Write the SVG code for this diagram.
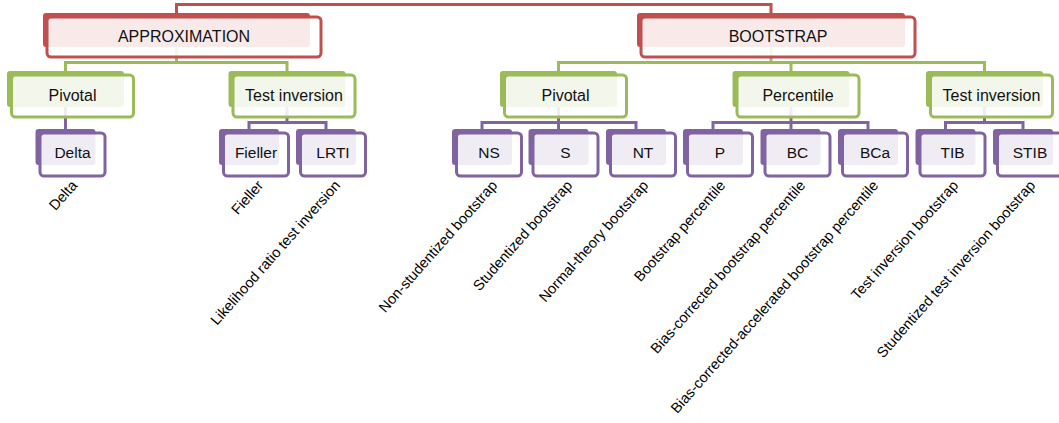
<svg xmlns="http://www.w3.org/2000/svg" width="1059" height="423" viewBox="0 0 1059 423">
<style>
.bg{fill:#ffffff}
.c-r{fill:none;stroke:#c0504d;stroke-width:3}
.c-g{fill:none;stroke:#9bbb59;stroke-width:3}
.c-p{fill:none;stroke:#8064a2;stroke-width:3}
.bk-r{fill:#c0504d}
.bk-g{fill:#9bbb59}
.bk-p{fill:#8064a2}
.fr-r{fill:#ffffff;fill-opacity:.88;stroke:#c0504d;stroke-width:3}
.fr-g{fill:#ffffff;fill-opacity:.88;stroke:#9bbb59;stroke-width:3}
.fr-p{fill:#ffffff;fill-opacity:.88;stroke:#8064a2;stroke-width:3}
.t{font-family:"Liberation Sans",Arial,sans-serif;font-size:16px;fill:#111;text-anchor:middle}
.t3{font-family:"Liberation Sans",Arial,sans-serif;font-size:15.5px;fill:#111;text-anchor:middle}
.lbl{font-family:"Liberation Sans",Arial,sans-serif;font-size:14.5px;fill:#000;text-anchor:end}
</style>
<rect class="bg" x="0" y="0" width="1059" height="423"/>
<g id="connectors">
<path class="c-r" d="M176.5 13 V4.5 H771 V13"/>
<path class="c-g" d="M176.5 47 V62.5 M65.5 71 V62.5 H287 V71"/>
<path class="c-g" d="M771 47 V62.5 M558.5 71 V62.5 H984.5 V71 M791 62.5 V71"/>
<path class="c-p" d="M65.5 107 V129"/>
<path class="c-p" d="M287 107 V122.5 M249 129 V122.5 H326 V129"/>
<path class="c-p" d="M558.5 107 V129 M482 129 V122.5 H636 V129"/>
<path class="c-p" d="M791 107 V129 M713 129 V122.5 H868 V129"/>
<path class="c-p" d="M984.5 107 V122.5 M945.5 129 V122.5 H1023 V129"/>
</g>
<g id="n-approximation">
<rect class="bk-r" x="43" y="13" width="267" height="34" rx="3"/>
<rect class="fr-r" x="47" y="17" width="274" height="40" rx="4"/>
<text class="t" x="184" y="42">APPROXIMATION</text>
</g>
<g id="n-bootstrap">
<rect class="bk-r" x="637" y="13" width="268" height="34" rx="3"/>
<rect class="fr-r" x="641" y="17" width="274" height="40" rx="4"/>
<text class="t" x="778" y="42">BOOTSTRAP</text>
</g>
<g id="n-pivotal-a">
<rect class="bk-g" x="7" y="71" width="117" height="36" rx="3"/>
<rect class="fr-g" x="11.5" y="75" width="122" height="42" rx="4"/>
<text class="t" x="72.5" y="101">Pivotal</text>
</g>
<g id="n-testinv-a">
<rect class="bk-g" x="228.5" y="71" width="117" height="36" rx="3"/>
<rect class="fr-g" x="233" y="75" width="122" height="42" rx="4"/>
<text class="t" x="294" y="101">Test inversion</text>
</g>
<g id="n-pivotal-b">
<rect class="bk-g" x="500" y="71" width="117" height="36" rx="3"/>
<rect class="fr-g" x="504.5" y="75" width="122" height="42" rx="4"/>
<text class="t" x="565.5" y="101">Pivotal</text>
</g>
<g id="n-percentile">
<rect class="bk-g" x="732.5" y="71" width="117" height="36" rx="3"/>
<rect class="fr-g" x="737" y="75" width="122" height="42" rx="4"/>
<text class="t" x="798" y="101">Percentile</text>
</g>
<g id="n-testinv-b">
<rect class="bk-g" x="926" y="71" width="117" height="36" rx="3"/>
<rect class="fr-g" x="930.5" y="75" width="122" height="42" rx="4"/>
<text class="t" x="991.5" y="101">Test inversion</text>
</g>
<g id="n-delta">
<rect class="bk-p" x="35.5" y="129" width="60" height="36" rx="3"/>
<rect class="fr-p" x="40" y="133" width="65" height="43" rx="4"/>
<text class="t3" x="72.5" y="158">Delta</text>
<text class="lbl" transform="translate(78 186) rotate(-48.5)">Delta</text>
</g>
<g id="n-fieller">
<rect class="bk-p" x="219" y="129" width="60" height="36" rx="3"/>
<rect class="fr-p" x="223.5" y="133" width="65" height="43" rx="4"/>
<text class="t3" x="256" y="158">Fieller</text>
<text class="lbl" transform="translate(264 186) rotate(-48.5)">Fieller</text>
</g>
<g id="n-lrti">
<rect class="bk-p" x="296" y="129" width="60" height="36" rx="3"/>
<rect class="fr-p" x="300.5" y="133" width="65" height="43" rx="4"/>
<text class="t3" x="333" y="158">LRTI</text>
<text class="lbl" transform="translate(341 186) rotate(-48.5)">Likelihood ratio test inversion</text>
</g>
<g id="n-ns">
<rect class="bk-p" x="452" y="129" width="60" height="36" rx="3"/>
<rect class="fr-p" x="456.5" y="133" width="65" height="43" rx="4"/>
<text class="t3" x="489" y="158">NS</text>
<text class="lbl" transform="translate(498 186) rotate(-48.5)">Non-studentized bootstrap</text>
</g>
<g id="n-s">
<rect class="bk-p" x="528.5" y="129" width="60" height="36" rx="3"/>
<rect class="fr-p" x="533" y="133" width="65" height="43" rx="4"/>
<text class="t3" x="565.5" y="158">S</text>
<text class="lbl" transform="translate(573 186) rotate(-48.5)">Studentized bootstrap</text>
</g>
<g id="n-nt">
<rect class="bk-p" x="606" y="129" width="60" height="36" rx="3"/>
<rect class="fr-p" x="610.5" y="133" width="65" height="43" rx="4"/>
<text class="t3" x="643" y="158">NT</text>
<text class="lbl" transform="translate(649 186) rotate(-48.5)">Normal-theory bootstrap</text>
</g>
<g id="n-p">
<rect class="bk-p" x="683" y="129" width="60" height="36" rx="3"/>
<rect class="fr-p" x="687.5" y="133" width="65" height="43" rx="4"/>
<text class="t3" x="720" y="158">P</text>
<text class="lbl" transform="translate(726 186) rotate(-48.5)">Bootstrap percentile</text>
</g>
<g id="n-bc">
<rect class="bk-p" x="760.5" y="129" width="60" height="36" rx="3"/>
<rect class="fr-p" x="765" y="133" width="65" height="43" rx="4"/>
<text class="t3" x="797.5" y="158">BC</text>
<text class="lbl" transform="translate(806 186) rotate(-48.5)">Bias-corrected bootstrap percentile</text>
</g>
<g id="n-bca">
<rect class="bk-p" x="838" y="129" width="60" height="36" rx="3"/>
<rect class="fr-p" x="842.5" y="133" width="65" height="43" rx="4"/>
<text class="t3" x="875" y="158">BCa</text>
<text class="lbl" transform="translate(879 186) rotate(-48.5)">Bias-corrected-accelerated bootstrap percentile</text>
</g>
<g id="n-tib">
<rect class="bk-p" x="915.5" y="129" width="60" height="36" rx="3"/>
<rect class="fr-p" x="920" y="133" width="65" height="43" rx="4"/>
<text class="t3" x="952.5" y="158">TIB</text>
<text class="lbl" transform="translate(959 186) rotate(-48.5)">Test inversion bootstrap</text>
</g>
<g id="n-stib">
<rect class="bk-p" x="993" y="129" width="60" height="36" rx="3"/>
<rect class="fr-p" x="997.5" y="133" width="65" height="43" rx="4"/>
<text class="t3" x="1030" y="158">STIB</text>
<text class="lbl" transform="translate(1036 186) rotate(-48.5)">Studentized test inversion bootstrap</text>
</g>
</svg>
